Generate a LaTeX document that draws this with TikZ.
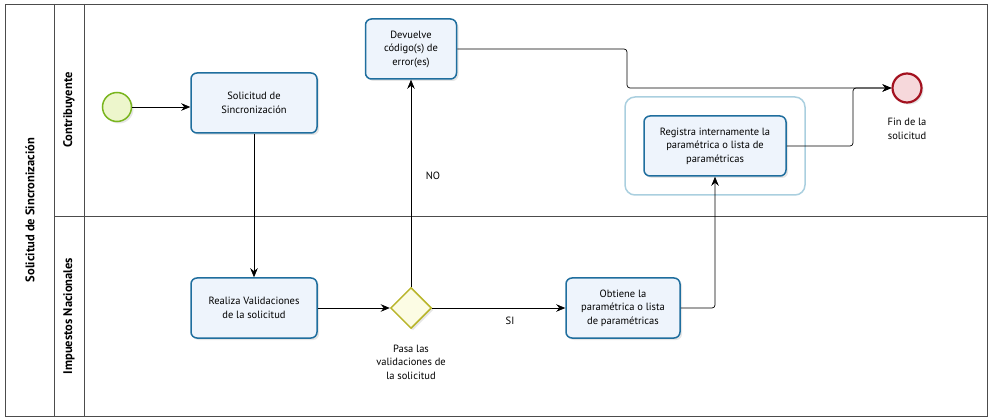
\documentclass[tikz,border=0pt]{standalone}
\usepackage{fontspec}
\setmainfont{PT Sans}
\usetikzlibrary{arrows.meta,shapes.geometric,shadows,positioning}
\definecolor{taskline}{HTML}{1F6E9E}
\definecolor{taskfill}{HTML}{EEF4FC}
\definecolor{startline}{HTML}{79B51E}
\definecolor{startfill}{HTML}{EDF6CC}
\definecolor{endline}{HTML}{A3111F}
\definecolor{endfill}{HTML}{F6D8DB}
\definecolor{gwline}{HTML}{B8B52A}
\definecolor{gwfill}{HTML}{FCFCE4}
\definecolor{grpline}{HTML}{AACFDF}
\begin{document}
\begin{tikzpicture}[x=1pt,y=-1pt,
    font=\fontsize{10.5}{13.5}\selectfont,
    shade/.style={drop shadow={opacity=0.2,shadow xshift=2pt,shadow yshift=-2pt}},
    task/.style={draw=taskline,line width=1.5pt,rounded corners=6pt,fill=taskfill,
      minimum width=126pt,minimum height=60pt,align=center,inner sep=2pt,shade},
    startev/.style={circle,draw=startline,line width=1.5pt,fill=startfill,minimum size=29pt,inner sep=0pt,shade},
    endev/.style={circle,draw=endline,line width=2.2pt,fill=endfill,minimum size=29pt,inner sep=0pt,shade},
    gateway/.style={diamond,draw=gwline,line width=1.5pt,fill=gwfill,minimum size=41pt,inner sep=0pt,shade},
    lanelabel/.style={rotate=90,font=\fontsize{12.5}{15}\selectfont\bfseries},
    flow/.style={-{Stealth[length=9pt,width=7.5pt]},line width=0.7pt,rounded corners=3pt},
    lane/.style={draw=black!70,line width=0.8pt}]
  \useasboundingbox (0,0) rectangle (992,419);
  % pool and lanes
  \draw[lane] (5,4) rectangle (987,416);
  \draw[lane] (54,4) -- (54,416);
  \draw[lane] (84,4) -- (84,416);
  \draw[lane] (54,216) -- (987,216);
  \node[lanelabel] (pool) at (30,210) {Solicitud de Sincronización};
  \node[lanelabel] (contrib) at (69,110) {Contribuyente};
  \node[lanelabel] (impuestos) at (69,316) {Impuestos Nacionales};
  % group
  \draw[draw=grpline,line width=1.5pt,rounded corners=10pt] (625,97) rectangle (805,195);
  % events, tasks, gateway
  \node[startev] (start) at (117,107) {};
  \node[task] (solicitud) at (254,103) {Solicitud de\\Sincronización};
  \node[task] (validaciones) at (254,308) {Realiza Validaciones\\de la solicitud};
  \node[gateway] (pasa) at (411,308) {};
  \node[align=center] (pasalabel) at (411,362) {Pasa las\\validaciones de\\la solicitud};
  \node[task,minimum width=91pt] (error) at (411,49) {Devuelve\\código(s) de\\error(es)};
  \node[task,minimum width=114pt] (obtiene) at (623,308) {Obtiene la\\paramétrica o lista\\de paramétricas};
  \node[task,minimum width=142pt] (registra) at (715,146) {Registra internamente la\\paramétrica o lista de\\paramétricas};
  \node[endev] (fin) at (907,88) {};
  \node[align=center] (finlabel) at (907,129) {Fin de la\\solicitud};
  \node (no) at (433,176) {NO};
  \node (si) at (510,321) {SI};
  % flows
  \begin{scope}[flow]
    \draw (start) -- (start -| solicitud.west);
    \draw (solicitud) -- (validaciones);
    \draw (validaciones) -- (pasa);
    \draw (pasa) -- (error);
    \draw (pasa) -- (obtiene);
    \draw (obtiene.east) -| (registra.south);
    \draw (registra.east) -- (853,146) |- (fin.west);
    \draw (error.east) -- (627,49) |- (fin.west);
  \end{scope}
\end{tikzpicture}
\end{document}
